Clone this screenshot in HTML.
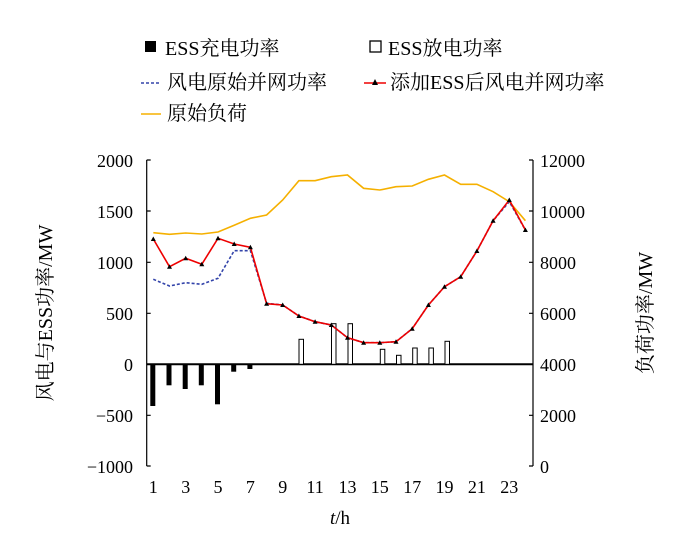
<!DOCTYPE html>
<html><head><meta charset="utf-8"><style>
body{margin:0;background:#fff;}
svg text{font-family:"Liberation Serif","Noto Serif CJK SC",serif;fill:#000;}
</style></head><body>
<svg width="694" height="540" viewBox="0 0 694 540" xmlns="http://www.w3.org/2000/svg">
<rect x="145" y="41" width="11" height="11" fill="#000"/>
<text x="165" y="55" font-size="20">ESS充电功率</text>
<rect x="370" y="41" width="11" height="11" fill="#fff" stroke="#000" stroke-width="1.3"/>
<text x="388" y="55" font-size="20">ESS放电功率</text>
<line x1="141" y1="83" x2="161" y2="83" stroke="#3344aa" stroke-width="1.6" stroke-dasharray="3,2"/>
<text x="167" y="89" font-size="20">风电原始并网功率</text>
<line x1="364" y1="83" x2="386" y2="83" stroke="#e00" stroke-width="1.6"/>
<polygon points="375,79 378,85 372,85" fill="#000"/>
<text x="390" y="89" font-size="20">添加ESS后风电并网功率</text>
<line x1="141" y1="114" x2="161" y2="114" stroke="#f5b000" stroke-width="1.6"/>
<text x="167" y="120" font-size="20">原始负荷</text>

<g stroke="#000" stroke-width="1.2" fill="none">
<line x1="146.7" y1="160" x2="146.7" y2="466"/>
<line x1="533" y1="160" x2="533" y2="466"/>
<line x1="146.7" y1="364.3" x2="533" y2="364.3" stroke-width="2"/>
<path d="M146.7 160h4M146.7 211h4M146.7 262.3h4M146.7 313.3h4M146.7 415.3h4M146.7 466h4"/>
<path d="M533 160h-4M533 211h-4M533 262.3h-4M533 313.3h-4M533 415.3h-4M533 466h-4"/>
</g>
<g font-size="18" text-anchor="end">
<text x="133" y="167">2000</text><text x="133" y="218">1500</text><text x="133" y="269">1000</text>
<text x="133" y="320">500</text><text x="133" y="371">0</text><text x="133" y="422">−500</text><text x="133" y="473">−1000</text>
</g>
<g font-size="18">
<text x="540" y="167">12000</text><text x="540" y="218">10000</text><text x="540" y="269">8000</text>
<text x="540" y="320">6000</text><text x="540" y="371">4000</text><text x="540" y="422">2000</text><text x="540" y="473">0</text>
</g>
<g font-size="18" text-anchor="middle">
<text x="153.3" y="493">1</text><text x="185.7" y="493">3</text><text x="218" y="493">5</text><text x="250.4" y="493">7</text>
<text x="282.7" y="493">9</text><text x="315.1" y="493">11</text><text x="347.5" y="493">13</text><text x="379.8" y="493">15</text>
<text x="412.2" y="493">17</text><text x="444.5" y="493">19</text><text x="476.9" y="493">21</text><text x="509.3" y="493">23</text>
</g>
<text x="340" y="524" font-size="19" text-anchor="middle"><tspan font-style="italic">t</tspan>/h</text>
<text transform="translate(52,313) rotate(-90)" font-size="20" text-anchor="middle">风电与ESS功率/MW</text>
<text transform="translate(652,313) rotate(-90)" font-size="20" text-anchor="middle">负荷功率/MW</text>

<g fill="#000">
<rect x="150.3" y="364.3" width="5" height="41.7"/>
<rect x="166.5" y="364.3" width="5" height="21"/>
<rect x="182.7" y="364.3" width="5" height="24.7"/>
<rect x="198.8" y="364.3" width="5" height="21"/>
<rect x="215" y="364.3" width="5" height="40"/>
<rect x="231.2" y="364.3" width="5" height="7.4"/>
<rect x="247.4" y="364.3" width="5" height="4.7"/>
</g>
<g fill="#fff" stroke="#000" stroke-width="1">
<rect x="299" y="339.3" width="4.5" height="25"/>
<rect x="331.5" y="323.7" width="4.5" height="40.6"/>
<rect x="348" y="323.7" width="4.5" height="40.6"/>
<rect x="380.3" y="349.3" width="4.5" height="15"/>
<rect x="396.5" y="355.3" width="4.5" height="9"/>
<rect x="412.7" y="348" width="4.5" height="16.3"/>
<rect x="428.9" y="348" width="4.5" height="16.3"/>
<rect x="445" y="341.3" width="4.5" height="23"/>
</g>

<polyline fill="none" stroke="#f5b000" stroke-width="1.6" points="153.3,232.7 169.5,234.3 185.7,233 201.8,234 218,232 234.2,225.3 250.4,218.3 266.6,215 282.7,200 298.9,180.7 315.1,180.7 331.3,176.7 347.5,175 363.6,188.3 379.8,190 396,186.7 412.2,186 428.4,179.3 444.5,175 460.7,184.3 476.9,184.3 493.1,191.7 509.3,201.7 525.4,220.7"/>
<polyline fill="none" stroke="#3344aa" stroke-width="1.6" stroke-dasharray="3,2" points="153.3,279.3 169.5,286 185.7,282.7 201.8,284.3 218,278.3 234.2,250.7 250.4,250.7 266.6,303.3 282.7,305 298.9,316 315.1,321.7 331.3,325 347.5,337.7 363.6,342.7 379.8,342.7 396,341.7 412.2,328.7 428.4,305 444.5,286.7 460.7,276.7 476.9,251 493.1,220.7 509.3,201.7 525.4,230"/>
<polyline fill="none" stroke="#e00" stroke-width="1.6" points="153.3,239 169.5,266.7 185.7,258.3 201.8,264.3 218,238.3 234.2,244 250.4,247.3 266.6,303.7 282.7,305 298.9,316 315.1,321.7 331.3,325 347.5,337.7 363.6,342.7 379.8,342.7 396,341.7 412.2,328.7 428.4,305 444.5,286.7 460.7,276.7 476.9,251 493.1,220.7 509.3,200 525.4,230"/>
<g fill="#000">
<path d="M153.3,236.5l2.5,4.5h-5z M169.5,264.2l2.5,4.5h-5z M185.7,255.8l2.5,4.5h-5z M201.8,261.8l2.5,4.5h-5z M218,235.8l2.5,4.5h-5z M234.2,241.5l2.5,4.5h-5z M250.4,244.8l2.5,4.5h-5z M266.6,301.2l2.5,4.5h-5z M282.7,302.5l2.5,4.5h-5z M298.9,313.5l2.5,4.5h-5z M315.1,319.2l2.5,4.5h-5z M331.3,322.5l2.5,4.5h-5z M347.5,335.2l2.5,4.5h-5z M363.6,340.2l2.5,4.5h-5z M379.8,340.2l2.5,4.5h-5z M396,339.2l2.5,4.5h-5z M412.2,326.2l2.5,4.5h-5z M428.4,302.5l2.5,4.5h-5z M444.5,284.2l2.5,4.5h-5z M460.7,274.2l2.5,4.5h-5z M476.9,248.5l2.5,4.5h-5z M493.1,218.2l2.5,4.5h-5z M509.3,197.5l2.5,4.5h-5z M525.4,227.5l2.5,4.5h-5z"/>
</g>
</svg>
</body></html>
